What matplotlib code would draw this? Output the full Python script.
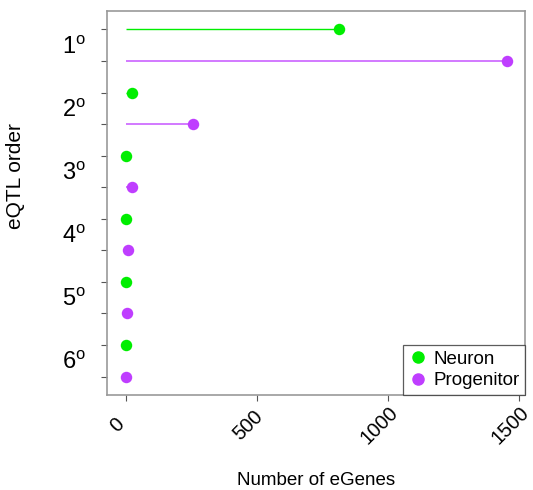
import numpy as np
import matplotlib
matplotlib.use("Agg")
import matplotlib.pyplot as plt
import matplotlib.transforms as mtransforms
from matplotlib.lines import Line2D

plt.rcParams['font.family'] = ['Liberation Sans', 'DejaVu Sans']
plt.rcParams['mathtext.fontset'] = 'custom'
plt.rcParams['mathtext.rm'] = 'Liberation Sans'
plt.rcParams['mathtext.it'] = 'Liberation Sans'

# eGenes per eQTL order
orders = ['1', '2', '3', '4', '5', '6']
neuron = [812, 23, 1, 1, 1, 2]
progenitor = [1454, 256, 23, 7, 3, 2]

green = '#00EE00'
purple = '#BF3EFF'

fig = plt.figure(figsize=(5.33, 4.9), dpi=100)
ax = fig.add_axes([0.2008, 0.194, 0.7842, 0.784])

# one row per (order, cell type): neuron first, then progenitor
rows_n = np.arange(len(orders)) * 2
rows_p = rows_n + 1

ax.hlines(rows_n, 0, neuron, color=green, lw=1.0, zorder=2)
ax.hlines(rows_p, 0, progenitor, color=purple, lw=1.3, alpha=0.75, zorder=2)
ax.scatter(neuron, rows_n, s=68, color=green, zorder=3, linewidths=0)
ax.scatter(progenitor, rows_p, s=68, color=purple, zorder=3, linewidths=0)

ax.set_xlim(-72, 1523)
ax.set_ylim(11.58, -0.59)

# unlabeled ticks per row, labels between each pair
ax.set_yticks(np.arange(12))
ax.set_yticklabels([])
ax.set_yticks(rows_n + 0.5, minor=True)
ax.set_yticklabels([r'$%s^{\mathrm{o}}$' % o for o in orders], minor=True, fontsize=17)
ax.tick_params(axis='y', which='minor', length=0, pad=15)
ax.tick_params(axis='y', which='major', length=4, color='#555555')

ax.set_xticks([0, 500, 1000, 1500])
ax.set_xticklabels(['0', '500', '1000', '1500'], rotation=45, ha='center',
                   va='center', rotation_mode='anchor', fontsize=14.5)
ax.tick_params(axis='x', length=4, pad=18, color='#555555')
shift = mtransforms.ScaledTranslation(-6 / 72, 0, fig.dpi_scale_trans)
for lab in ax.get_xticklabels():
    lab.set_transform(lab.get_transform() + shift)

for s in ax.spines.values():
    s.set_color('#999999')
    s.set_linewidth(1.2)

ax.set_xlabel('Number of eGenes', fontsize=13.5)
ax.xaxis.set_label_coords(0.5, -0.200)
ax.set_ylabel('eQTL order', fontsize=15)
ax.yaxis.set_label_coords(-0.196, 0.57)

handles = [Line2D([], [], marker='o', ls='', color=green, markersize=8, label='Neuron'),
           Line2D([], [], marker='o', ls='', color=purple, markersize=8, label='Progenitor')]
leg = ax.legend(handles=handles, loc='lower right', fontsize=13.5, frameon=True,
                fancybox=False, borderaxespad=0, handletextpad=0.3,
                handlelength=1.0, borderpad=0.3, labelspacing=0.25)
leg.get_frame().set_edgecolor('#333333')
leg.get_frame().set_linewidth(0.9)

fig.savefig('out.png', dpi=100)
